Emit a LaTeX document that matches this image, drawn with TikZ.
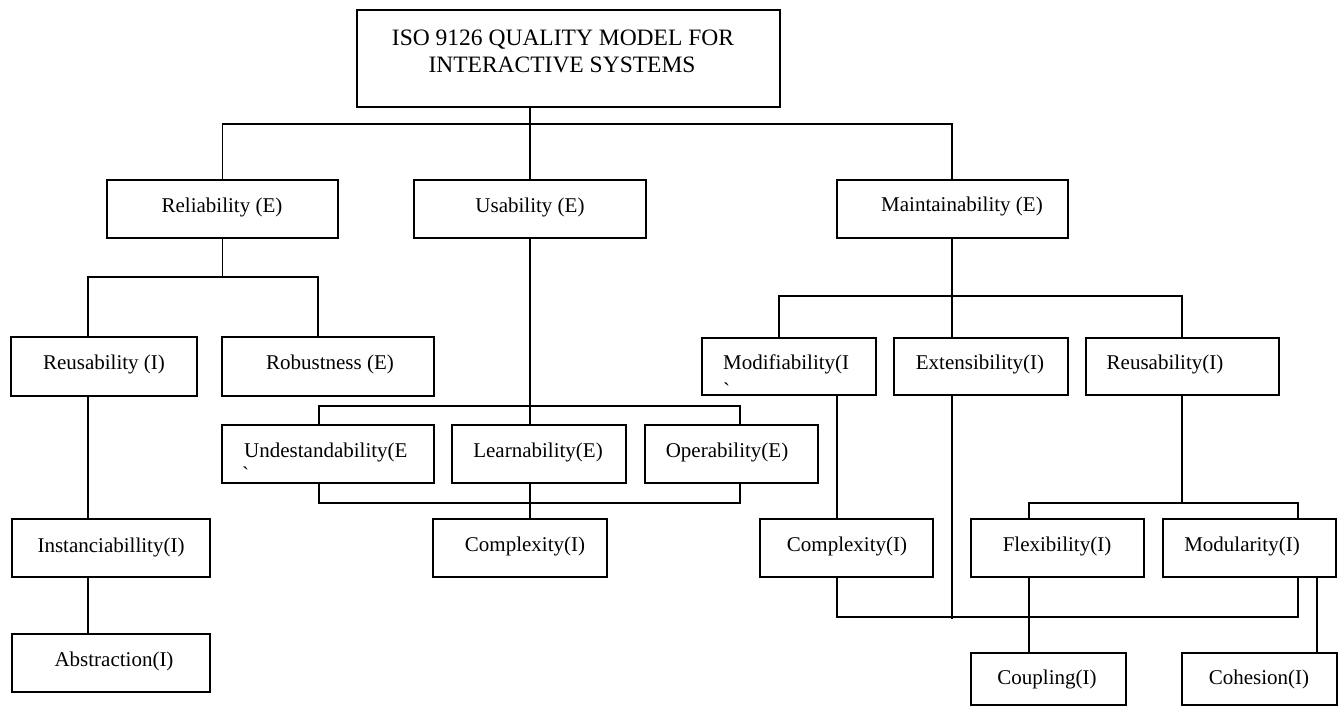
\documentclass[tikz,border=0pt]{standalone}
\usepackage{fontspec}
\setmainfont{Liberation Serif}[Ligatures=TeXOff]
\usetikzlibrary{fit}
\tikzset{
  box/.style={draw, line width=1.9pt, inner sep=0pt},
  conn/.style={line width=1.9pt},
  lbl/.style={inner sep=0pt, font=\fontsize{21}{24}\selectfont, anchor=base},
  lblw/.style={lbl, anchor=base west},
  ttl/.style={inner sep=0pt, font=\fontsize{23.5}{27}\selectfont, anchor=base},
}
\newcommand\mkbox[5]{\path (#2,#3) coordinate (#1-a) (#4,#5) coordinate (#1-b); \node[box, fit=(#1-a)(#1-b)] (#1) {};}
\begin{document}
\begin{tikzpicture}[x=1pt,y=-1pt]
\fill[white] (0,0) rectangle (1342,707);
\useasboundingbox (0,0) rectangle (1342,707);
% boxes
\mkbox{top}{357}{10}{780}{107}
\mkbox{rel}{107}{180}{338}{238}
\mkbox{usa}{414}{180}{646}{238}
\mkbox{mai}{837}{180}{1068}{238}
\mkbox{reuL}{11}{337}{197}{396}
\mkbox{rob}{222}{337}{434}{396}
\mkbox{mod}{702}{338}{876}{395}
\mkbox{ext}{894}{338}{1068}{395}
\mkbox{reuR}{1086}{338}{1279}{395}
\mkbox{und}{222}{425}{434}{483}
\mkbox{lea}{452}{425}{626}{483}
\mkbox{ope}{645}{425}{818}{483}
\mkbox{cxM}{433}{519}{607}{577}
\mkbox{ins}{12}{519}{210}{577}
\mkbox{abs}{12}{634}{210}{692}
\mkbox{cxR}{760}{519}{933}{577}
\mkbox{fle}{971}{519}{1144}{577}
\mkbox{modu}{1163}{519}{1336}{577}
\mkbox{cou}{971}{653}{1126}{705}
\mkbox{coh}{1182}{653}{1337}{705}
% labels
\node[ttl] (top-t) at (563,45) {ISO 9126 QUALITY MODEL FOR};
\node[ttl] (top-t2) at (562,72) {INTERACTIVE SYSTEMS};
\node[lbl] (rel-t) at (222,212) {Reliability (E)};
\node[lbl] (usa-t) at (530,212) {Usability (E)};
\node[lbl] (mai-t) at (962,211) {Maintainability (E)};
\node[lbl] (reuL-t) at (104,369) {Reusability (I)};
\node[lbl] (rob-t) at (330,369) {Robustness (E)};
\node[lblw] (mod-t) at (723,369) {Modifiability(I};
\node[lblw] (mod-t2) at (723,397) {\symbol{96}};
\node[lbl] (ext-t) at (980,369) {Extensibility(I)};
\node[lbl] (reuR-t) at (1165,369) {Reusability(I)};
\node[lblw] (und-t) at (244,457) {Undestandability(E};
\node[lblw] (und-t2) at (242,481) {\symbol{96}};
\node[lbl] (lea-t) at (538,457) {Learnability(E)};
\node[lbl] (ope-t) at (727,457) {Operability(E)};
\node[lbl] (cxM-t) at (525,551) {Complexity(I)};
\node[lbl] (ins-t) at (111,552) {Instanciabillity(I)};
\node[lbl] (abs-t) at (114,666) {Abstraction(I)};
\node[lbl] (cxR-t) at (847,551) {Complexity(I)};
\node[lbl] (fle-t) at (1057,551) {Flexibility(I)};
\node[lbl] (modu-t) at (1242,551) {Modularity(I)};
\node[lbl] (cou-t) at (1047,684) {Coupling(I)};
\node[lbl] (coh-t) at (1259,684) {Cohesion(I)};
% x-lines for connectors
\coordinate (xL) at (88,0);
\coordinate (xRb) at (318,0);
\coordinate (xU) at (319,0);
\coordinate (xC) at (530,0);
\coordinate (xO) at (740,0);
\coordinate (xMo) at (779,0);
\coordinate (xCx) at (837,0);
\coordinate (xM) at (952,0);
\coordinate (xR) at (1182,0);
\coordinate (xF) at (1029,0);
\coordinate (xMd) at (1298,0);
\coordinate (xCh) at (1317,0);
\coordinate (extEnd) at (952,619);
% top level
\draw[conn] (top.south -| xC) -- (usa.north -| xC);
\draw[conn] (rel.north) -- ++(0,-55) -| (mai.north -| xM);
% reliability
\draw[conn] (rel.south) -- ++(0,38) coordinate (rb);
\draw[conn] (reuL.north -| xL) |- (rb) -| (rob.north -| xRb);
\draw[conn] (reuL.south -| xL) -- (ins.north -| xL);
\draw[conn] (ins.south -| xL) -- (abs.north -| xL);
% usability
\draw[conn] (usa.south -| xC) -- (lea.north -| xC);
\draw[conn] (und.north -| xU) -- ++(0,-18) -| (ope.north -| xO);
\draw[conn] (und.south -| xU) -- ++(0,19) -| (ope.south -| xO);
\draw[conn] (lea.south -| xC) -- (cxM.north -| xC);
% maintainability
\draw[conn] (mai.south -| xM) -- ++(0,57) coordinate (mb);
\draw[conn] (mod.north -| xMo) |- (mb) -| (reuR.north -| xR);
\draw[conn] (mb) -- (ext.north -| xM);
\draw[conn] (mod.south -| xCx) -- (cxR.north -| xCx);
\draw[conn] (ext.south -| xM) -- (extEnd);
\draw[conn] (reuR.south -| xR) -- ++(0,107) coordinate (rb2);
\draw[conn] (fle.north -| xF) |- (rb2) -| (modu.north -| xMd);
\draw[conn] (cxR.south -| xCx) -- ++(0,39) -| (modu.south -| xMd);
\draw[conn] (fle.south -| xF) -- (cou.north -| xF);
\draw[conn] (modu.south -| xCh) -- (coh.north -| xCh);
\end{tikzpicture}
\end{document}
